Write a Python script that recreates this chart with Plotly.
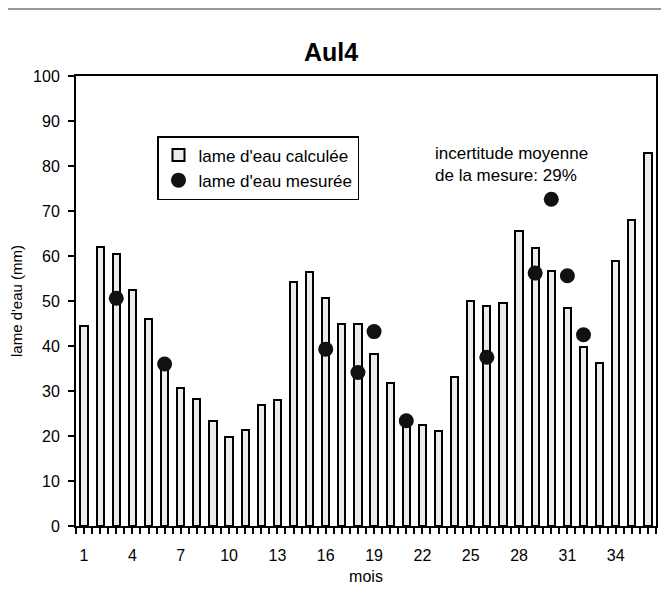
import plotly.graph_objects as go

# Données
mois = list(range(1, 37))
lame_calculee = [44.5, 62, 60.5, 52.5, 46, 36, 30.7, 28.2, 23.4, 19.8, 21.3, 26.9,
                 28, 54.3, 56.4, 50.7, 44.8, 44.8, 38.2, 31.7, 24, 22.5, 21.2, 33.2,
                 50.1, 48.8, 49.6, 65.5, 61.8, 56.7, 48.4, 39.8, 36.2, 59, 68, 82.9]
mois_mesure = [3, 6, 16, 18, 19, 21, 26, 29, 30, 31, 32]
lame_mesuree = [50.6, 36, 39.3, 34.1, 43.2, 23.4, 37.5, 56.2, 72.6, 55.6, 42.5]

# la page ajoute 8 px de marge autour de la figure
W, H = 661, 596
ml, mr, mt, mb = 68, 13, 68, 78
pw, ph = W - ml - mr, H - mt - mb

police = "Arial, Liberation Sans, sans-serif"

fig = go.Figure()
fig.add_trace(go.Bar(
    x=mois, y=lame_calculee, name="lame d'eau calculée", width=0.45,
    marker=dict(color="#ececec", line=dict(color="black", width=2))
))
fig.add_trace(go.Scatter(
    x=mois_mesure, y=lame_mesuree, name="lame d'eau mesurée", mode="markers",
    marker=dict(color="#111", size=15)
))

fig.add_annotation(
    x=(433 - 76) / pw, y=(526 - 142) / ph, xref="paper", yref="paper",
    xanchor="left", yanchor="top",
    text="incertitude moyenne<br>de la mesure: 29%", showarrow=False, align="left",
    font=dict(size=17, color="black", family=police)
)

# cadre extérieur (haut et droite)
fig.add_shape(type="line", xref="paper", yref="paper",
              x0=-ml / pw, x1=1 + (mr - 2) / pw, y0=1 + (mt - 1) / ph, y1=1 + (mt - 1) / ph,
              line=dict(color="#777", width=1.5))
fig.add_shape(type="line", xref="paper", yref="paper",
              x0=1 + (mr - 2) / pw, x1=1 + (mr - 2) / pw, y0=-(mb - 4) / ph, y1=1 + (mt - 1) / ph,
              line=dict(color="#999", width=1.5))

fig.update_layout(
    width=W, height=H,
    margin=dict(l=ml, r=mr, t=mt, b=mb),
    paper_bgcolor="white", plot_bgcolor="white",
    font=dict(family=police, size=16, color="black"),
    title=dict(text="<b>Aul4</b>", x=(331 - 8) / W, xanchor="center",
               y=1 - (52 - 8) / H, yanchor="middle", font=dict(size=25)),
    bargap=0,
    legend=dict(x=(157 - 76) / pw, y=(526 - 136) / ph, xanchor="left", yanchor="top",
                bordercolor="black", borderwidth=1.5, bgcolor="white",
                font=dict(size=17), itemwidth=30, tracegroupgap=0),
    showlegend=True,
)
fig.update_xaxes(
    range=[0.5, 36.5], tick0=1, dtick=3, ticks="outside", ticklen=6, tickwidth=1.5,
    tickcolor="black",
    showgrid=False, showline=True, linecolor="black", linewidth=2, mirror=True,
    minor=dict(ticks="outside", tick0=0.5, dtick=0.5, ticklen=6, tickwidth=1.5,
               tickcolor="black", showgrid=False),
    ticklabelstandoff=8, automargin=False,
    title=dict(text="mois", standoff=8, font=dict(size=16)), zeroline=False
)
fig.update_yaxes(
    range=[0, 100], dtick=10, ticks="outside", ticklen=6, tickwidth=1.5, tickcolor="black",
    showgrid=False, showline=True, linecolor="black", linewidth=2, mirror=True,
    ticklabelstandoff=5, automargin=False,
    title=dict(text="lame d'eau (mm)", standoff=14, font=dict(size=15)), zeroline=False
)

fig.write_html("out.html")
